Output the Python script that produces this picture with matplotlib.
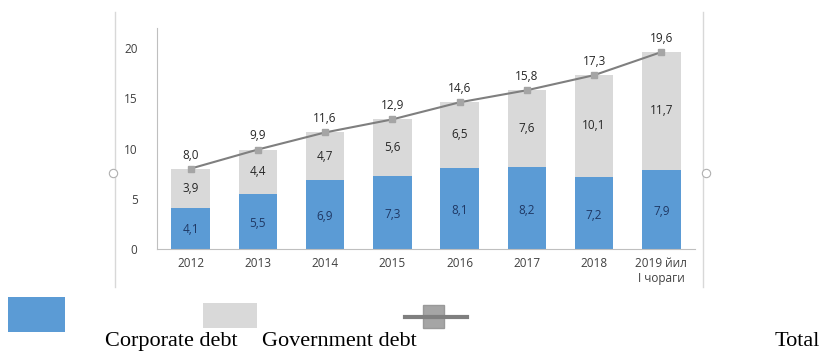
import matplotlib.pyplot as plt
from matplotlib.patches import Rectangle
from matplotlib.lines import Line2D

# Debt data (trillion), comma decimals as in the source
years = ['2012', '2013', '2014', '2015', '2016', '2017', '2018', '2019 йил\nI чораги']
corporate = [4.1, 5.5, 6.9, 7.3, 8.1, 8.2, 7.2, 7.9]
government = [3.9, 4.4, 4.7, 5.6, 6.5, 7.6, 10.1, 11.7]
total = [8.0, 9.9, 11.6, 12.9, 14.6, 15.8, 17.3, 19.6]


def fmt(v):
    return f'{v:.1f}'.replace('.', ',')


plt.rcParams['font.family'] = ['Open Sans', 'DejaVu Sans']

fig = plt.figure(figsize=(8.24, 3.52), dpi=100)
fig.patch.set_facecolor('white')
ax = fig.add_axes([0.1905, 0.2926, 0.6529, 0.628])

x = range(len(years))
ax.bar(x, corporate, width=0.57, color='#5b9bd5', zorder=2)
ax.bar(x, government, width=0.57, bottom=corporate, color='#d9d9d9', zorder=2)
ax.plot(x, total, color='#7f7f7f', lw=1.5, marker='s', markersize=5,
        markerfacecolor='#a5a5a5', markeredgecolor='#a5a5a5', zorder=3)

for i in x:
    ax.text(i, corporate[i] * 0.47, fmt(corporate[i]), ha='center', va='center',
            fontsize=8.5, color='#1f3864')
    ax.text(i, corporate[i] + government[i] / 2, fmt(government[i]), ha='center',
            va='center', fontsize=8.5, color='#262626')
    ax.text(i, total[i] + 0.7, fmt(total[i]), ha='center', va='bottom',
            fontsize=8.5, color='#262626')

ax.set_xlim(-0.5, 7.5)
ax.set_ylim(0, 22)
ax.set_yticks([0, 5, 10, 15, 20])
ax.set_xticks(list(x))
ax.set_xticklabels(years)
ax.tick_params(axis='both', length=0, labelsize=8.5, colors='#404040')
ax.tick_params(axis='y', pad=14)
ax.tick_params(axis='x', pad=6)
for s in ['top', 'right']:
    ax.spines[s].set_visible(False)
ax.spines['left'].set_color('#bfbfbf')
ax.spines['bottom'].set_color('#bfbfbf')

# chart frame remnants
fig.add_artist(Line2D([115 / 824, 115 / 824], [1 - 12 / 352, 1 - 287 / 352], color='#d8d8d8', lw=1))
fig.add_artist(Line2D([703 / 824, 703 / 824], [1 - 12 / 352, 1 - 287 / 352], color='#d8d8d8', lw=1))
for cx in [113, 706]:
    fig.add_artist(Line2D([cx / 824], [1 - 173 / 352], marker='o', markersize=6,
                          markerfacecolor='white', markeredgecolor='#b0b0b0', markeredgewidth=0.8))

# legend at bottom
fig.add_artist(Rectangle((8 / 824, 1 - 332 / 352), 57 / 824, 35 / 352, transform=fig.transFigure,
                         facecolor='#5b9bd5', edgecolor='none'))
fig.add_artist(Rectangle((203 / 824, 1 - 328 / 352), 54 / 824, 25 / 352, transform=fig.transFigure,
                         facecolor='#d9d9d9', edgecolor='none'))
fig.add_artist(Line2D([405 / 824, 467 / 824], [1 - 317 / 352, 1 - 317 / 352], color='#7f7f7f', lw=3))
fig.add_artist(Rectangle((423 / 824, 1 - 328 / 352), 21 / 824, 23 / 352, transform=fig.transFigure,
                         facecolor='#a5a5a5', edgecolor='#999999'))
lf = dict(family='Liberation Serif', fontsize=16, color='black', va='baseline')
fig.text(105 / 824, 1 - 346 / 352, 'Corporate debt', **lf)
fig.text(262 / 824, 1 - 346 / 352, 'Government debt', **lf)
fig.text(775 / 824, 1 - 346 / 352, 'Total', **lf)

fig.savefig('out.png', dpi=100)
